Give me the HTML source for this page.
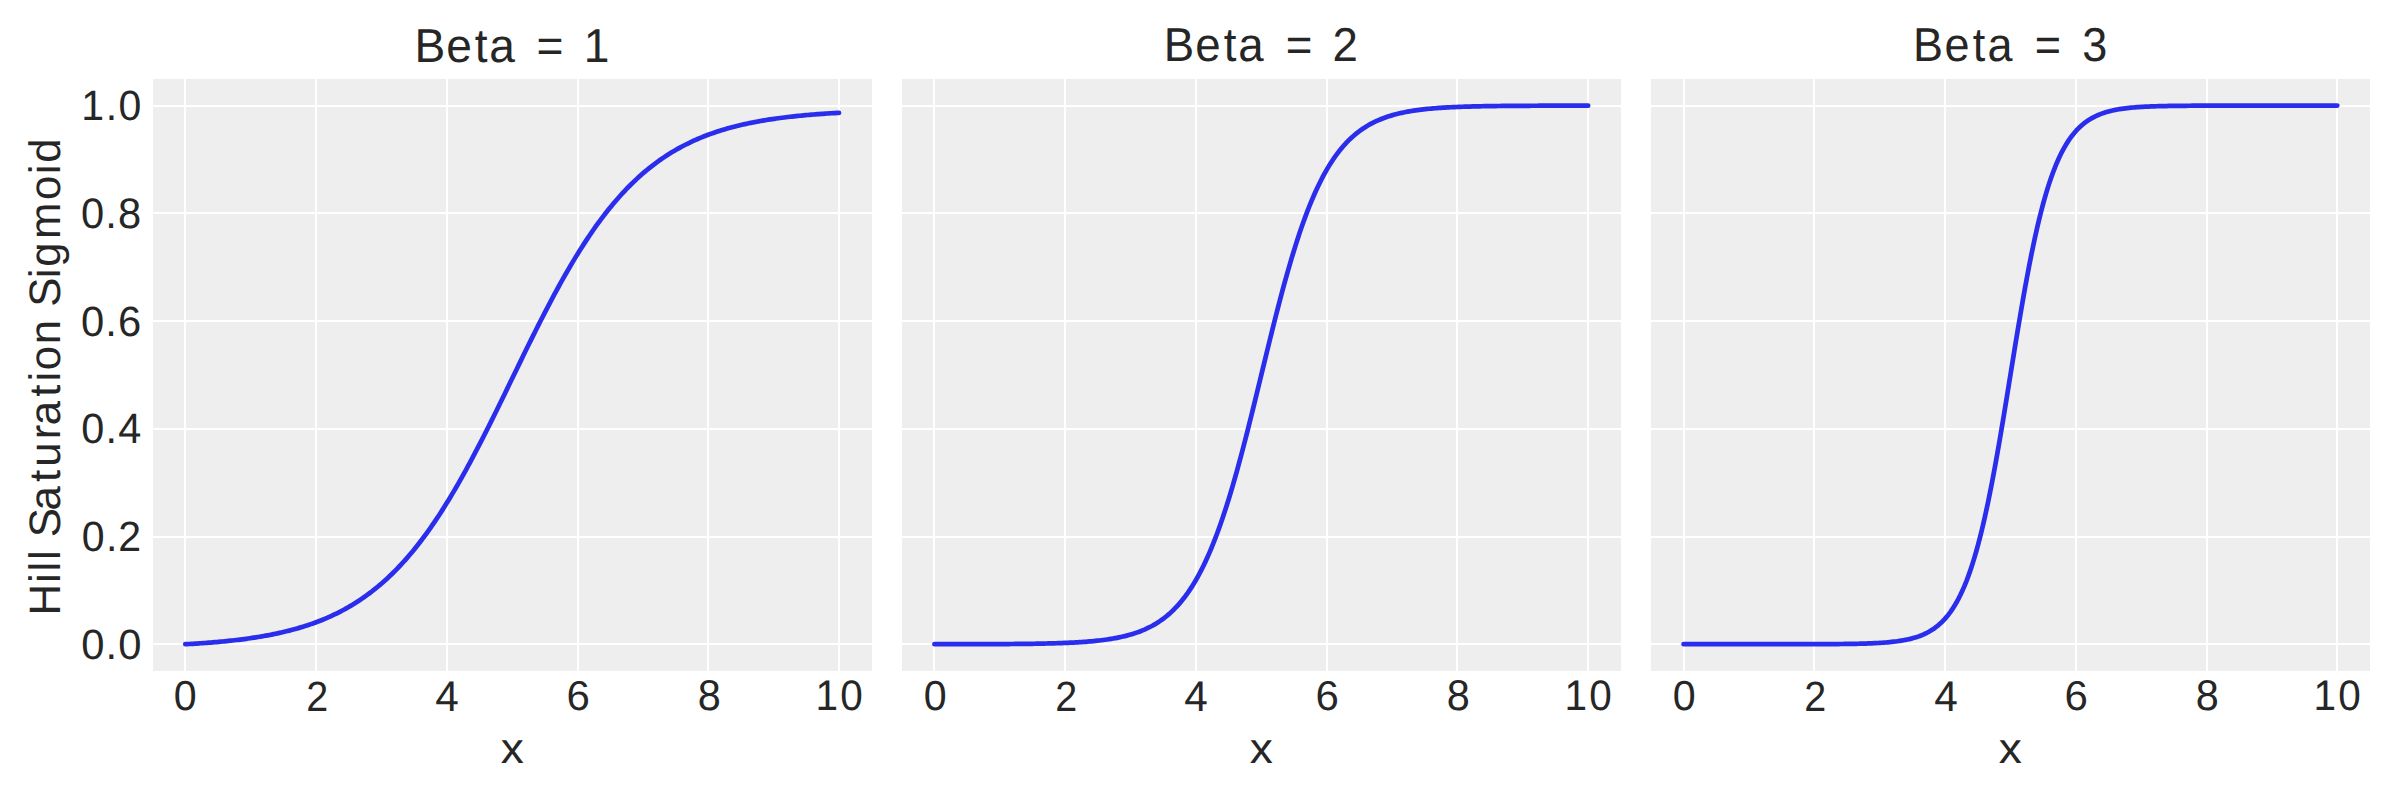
<!DOCTYPE html>
<html lang="en"><head><meta charset="utf-8"><title>Hill Saturation Sigmoid</title>
<style>
html,body{margin:0;padding:0;background:#fff;width:2400px;height:800px;overflow:hidden}
svg{display:block}
text{font-family:"Liberation Sans",sans-serif;fill:#262626;text-rendering:geometricPrecision}
</style></head><body>
<svg width="2400" height="800" viewBox="0 0 2400 800">
<rect width="2400" height="800" fill="#fff"/>
<rect x="153" y="79" width="719" height="592" fill="#eeeeee"/>
<rect x="184" y="79" width="2" height="592" fill="#fff"/>
<rect x="315" y="79" width="2" height="592" fill="#fff"/>
<rect x="446" y="79" width="2" height="592" fill="#fff"/>
<rect x="577" y="79" width="2" height="592" fill="#fff"/>
<rect x="707" y="79" width="2" height="592" fill="#fff"/>
<rect x="838" y="79" width="2" height="592" fill="#fff"/>
<rect x="153" y="643" width="719" height="2" fill="#fff"/>
<rect x="153" y="536" width="719" height="2" fill="#fff"/>
<rect x="153" y="428" width="719" height="2" fill="#fff"/>
<rect x="153" y="320" width="719" height="2" fill="#fff"/>
<rect x="153" y="212" width="719" height="2" fill="#fff"/>
<rect x="153" y="105" width="719" height="2" fill="#fff"/>
<path d="M185.27 644.23 L187.23 644.13 L189.2 644.01 L191.16 643.9 L193.12 643.78 L195.09 643.66 L197.05 643.53 L199.01 643.4 L200.98 643.26 L202.94 643.13 L204.9 642.98 L206.87 642.84 L208.83 642.69 L210.79 642.53 L212.76 642.37 L214.72 642.2 L216.68 642.04 L218.65 641.86 L220.61 641.68 L222.57 641.49 L224.54 641.3 L226.5 641.11 L228.46 640.9 L230.43 640.7 L232.39 640.48 L234.35 640.26 L236.32 640.03 L238.28 639.8 L240.24 639.56 L242.21 639.31 L244.17 639.05 L246.13 638.79 L248.1 638.52 L250.06 638.24 L252.02 637.95 L253.99 637.65 L255.95 637.35 L257.91 637.04 L259.88 636.71 L261.84 636.38 L263.8 636.04 L265.76 635.69 L267.73 635.33 L269.69 634.95 L271.65 634.57 L273.62 634.18 L275.58 633.77 L277.54 633.35 L279.51 632.92 L281.47 632.48 L283.43 632.03 L285.4 631.56 L287.36 631.08 L289.32 630.59 L291.29 630.08 L293.25 629.55 L295.21 629.02 L297.18 628.46 L299.14 627.89 L301.1 627.31 L303.07 626.71 L305.03 626.09 L306.99 625.45 L308.96 624.8 L310.92 624.13 L312.88 623.44 L314.85 622.73 L316.81 622 L318.77 621.25 L320.74 620.48 L322.7 619.69 L324.66 618.88 L326.63 618.05 L328.59 617.19 L330.55 616.31 L332.52 615.41 L334.48 614.48 L336.44 613.53 L338.41 612.55 L340.37 611.55 L342.33 610.52 L344.29 609.46 L346.26 608.37 L348.22 607.26 L350.18 606.12 L352.15 604.95 L354.11 603.75 L356.07 602.52 L358.04 601.26 L360 599.96 L361.96 598.64 L363.93 597.28 L365.89 595.89 L367.85 594.46 L369.82 593 L371.78 591.5 L373.74 589.97 L375.71 588.4 L377.67 586.79 L379.63 585.15 L381.6 583.46 L383.56 581.74 L385.52 579.98 L387.49 578.18 L389.45 576.34 L391.41 574.45 L393.38 572.53 L395.34 570.56 L397.3 568.55 L399.27 566.5 L401.23 564.41 L403.19 562.27 L405.16 560.08 L407.12 557.86 L409.08 555.58 L411.05 553.26 L413.01 550.9 L414.97 548.49 L416.94 546.03 L418.9 543.53 L420.86 540.98 L422.82 538.38 L424.79 535.74 L426.75 533.05 L428.71 530.32 L430.68 527.54 L432.64 524.71 L434.6 521.83 L436.57 518.91 L438.53 515.94 L440.49 512.93 L442.46 509.87 L444.42 506.76 L446.38 503.61 L448.35 500.42 L450.31 497.18 L452.27 493.9 L454.24 490.58 L456.2 487.22 L458.16 483.81 L460.13 480.36 L462.09 476.88 L464.05 473.36 L466.02 469.79 L467.98 466.2 L469.94 462.56 L471.91 458.9 L473.87 455.2 L475.83 451.47 L477.8 447.7 L479.76 443.91 L481.72 440.09 L483.69 436.25 L485.65 432.38 L487.61 428.48 L489.58 424.57 L491.54 420.63 L493.5 416.68 L495.47 412.71 L497.43 408.72 L499.39 404.72 L501.35 400.71 L503.32 396.69 L505.28 392.66 L507.24 388.63 L509.21 384.59 L511.17 380.54 L513.13 376.5 L515.1 372.46 L517.06 368.42 L519.02 364.38 L520.99 360.35 L522.95 356.33 L524.91 352.32 L526.88 348.32 L528.84 344.33 L530.8 340.36 L532.77 336.41 L534.73 332.47 L536.69 328.56 L538.66 324.67 L540.62 320.8 L542.58 316.95 L544.55 313.13 L546.51 309.34 L548.47 305.58 L550.44 301.85 L552.4 298.15 L554.36 294.48 L556.33 290.85 L558.29 287.25 L560.25 283.69 L562.22 280.16 L564.18 276.68 L566.14 273.23 L568.11 269.83 L570.07 266.46 L572.03 263.14 L574 259.86 L575.96 256.62 L577.92 253.43 L579.88 250.28 L581.85 247.18 L583.81 244.12 L585.77 241.1 L587.74 238.13 L589.7 235.21 L591.66 232.34 L593.63 229.51 L595.59 226.73 L597.55 223.99 L599.52 221.3 L601.48 218.66 L603.44 216.06 L605.41 213.51 L607.37 211.01 L609.33 208.55 L611.3 206.14 L613.26 203.78 L615.22 201.46 L617.19 199.19 L619.15 196.96 L621.11 194.78 L623.08 192.64 L625.04 190.54 L627 188.49 L628.97 186.48 L630.93 184.51 L632.89 182.59 L634.86 180.71 L636.82 178.86 L638.78 177.06 L640.75 175.3 L642.71 173.58 L644.67 171.9 L646.64 170.25 L648.6 168.65 L650.56 167.08 L652.53 165.54 L654.49 164.05 L656.45 162.58 L658.41 161.16 L660.38 159.77 L662.34 158.41 L664.3 157.08 L666.27 155.79 L668.23 154.52 L670.19 153.29 L672.16 152.09 L674.12 150.92 L676.08 149.78 L678.05 148.67 L680.01 147.58 L681.97 146.53 L683.94 145.5 L685.9 144.49 L687.86 143.52 L689.83 142.56 L691.79 141.64 L693.75 140.73 L695.72 139.85 L697.68 139 L699.64 138.16 L701.61 137.35 L703.57 136.56 L705.53 135.79 L707.5 135.04 L709.46 134.31 L711.42 133.6 L713.39 132.91 L715.35 132.24 L717.31 131.59 L719.28 130.95 L721.24 130.34 L723.2 129.73 L725.17 129.15 L727.13 128.58 L729.09 128.03 L731.06 127.49 L733.02 126.97 L734.98 126.46 L736.95 125.96 L738.91 125.48 L740.87 125.01 L742.83 124.56 L744.8 124.12 L746.76 123.69 L748.72 123.27 L750.69 122.87 L752.65 122.47 L754.61 122.09 L756.58 121.72 L758.54 121.35 L760.5 121 L762.47 120.66 L764.43 120.33 L766.39 120.01 L768.36 119.69 L770.32 119.39 L772.28 119.09 L774.25 118.81 L776.21 118.53 L778.17 118.26 L780.14 117.99 L782.1 117.74 L784.06 117.49 L786.03 117.25 L787.99 117.01 L789.95 116.78 L791.92 116.56 L793.88 116.35 L795.84 116.14 L797.81 115.94 L799.77 115.74 L801.73 115.55 L803.7 115.36 L805.66 115.18 L807.62 115.01 L809.59 114.84 L811.55 114.67 L813.51 114.51 L815.48 114.36 L817.44 114.21 L819.4 114.06 L821.36 113.92 L823.33 113.78 L825.29 113.64 L827.25 113.51 L829.22 113.39 L831.18 113.26 L833.14 113.15 L835.11 113.03 L837.07 112.92 L839.03 112.81 L839.03 112.81" fill="none" stroke="#2a2eec" stroke-width="4.72" stroke-linecap="round" stroke-linejoin="round"/>
<rect x="902" y="79" width="719" height="592" fill="#eeeeee"/>
<rect x="933" y="79" width="2" height="592" fill="#fff"/>
<rect x="1064" y="79" width="2" height="592" fill="#fff"/>
<rect x="1195" y="79" width="2" height="592" fill="#fff"/>
<rect x="1326" y="79" width="2" height="592" fill="#fff"/>
<rect x="1456" y="79" width="2" height="592" fill="#fff"/>
<rect x="1587" y="79" width="2" height="592" fill="#fff"/>
<rect x="902" y="643" width="719" height="2" fill="#fff"/>
<rect x="902" y="536" width="719" height="2" fill="#fff"/>
<rect x="902" y="428" width="719" height="2" fill="#fff"/>
<rect x="902" y="320" width="719" height="2" fill="#fff"/>
<rect x="902" y="212" width="719" height="2" fill="#fff"/>
<rect x="902" y="105" width="719" height="2" fill="#fff"/>
<path d="M934.41 644.23 L936.37 644.23 L938.34 644.23 L940.3 644.23 L942.26 644.23 L944.23 644.23 L946.19 644.22 L948.15 644.22 L950.12 644.22 L952.08 644.22 L954.04 644.21 L956.01 644.21 L957.97 644.21 L959.93 644.21 L961.9 644.2 L963.86 644.2 L965.82 644.2 L967.79 644.19 L969.75 644.19 L971.71 644.18 L973.68 644.18 L975.64 644.17 L977.6 644.17 L979.57 644.16 L981.53 644.16 L983.49 644.15 L985.45 644.14 L987.42 644.14 L989.38 644.13 L991.34 644.12 L993.31 644.11 L995.27 644.1 L997.23 644.09 L999.2 644.08 L1001.16 644.07 L1003.12 644.06 L1005.09 644.05 L1007.05 644.03 L1009.01 644.02 L1010.98 644 L1012.94 643.99 L1014.9 643.97 L1016.87 643.95 L1018.83 643.94 L1020.79 643.92 L1022.76 643.89 L1024.72 643.87 L1026.68 643.85 L1028.65 643.82 L1030.61 643.8 L1032.57 643.77 L1034.54 643.74 L1036.5 643.7 L1038.46 643.67 L1040.43 643.63 L1042.39 643.59 L1044.35 643.55 L1046.32 643.51 L1048.28 643.46 L1050.24 643.41 L1052.21 643.36 L1054.17 643.31 L1056.13 643.25 L1058.1 643.19 L1060.06 643.12 L1062.02 643.05 L1063.98 642.97 L1065.95 642.9 L1067.91 642.81 L1069.87 642.72 L1071.84 642.63 L1073.8 642.53 L1075.76 642.42 L1077.73 642.31 L1079.69 642.18 L1081.65 642.06 L1083.62 641.92 L1085.58 641.78 L1087.54 641.62 L1089.51 641.46 L1091.47 641.29 L1093.43 641.11 L1095.4 640.91 L1097.36 640.71 L1099.32 640.49 L1101.29 640.26 L1103.25 640.01 L1105.21 639.75 L1107.18 639.47 L1109.14 639.18 L1111.1 638.87 L1113.07 638.54 L1115.03 638.19 L1116.99 637.82 L1118.96 637.43 L1120.92 637.01 L1122.88 636.57 L1124.85 636.1 L1126.81 635.6 L1128.77 635.07 L1130.74 634.51 L1132.7 633.92 L1134.66 633.3 L1136.63 632.63 L1138.59 631.93 L1140.55 631.18 L1142.51 630.39 L1144.48 629.56 L1146.44 628.68 L1148.4 627.74 L1150.37 626.75 L1152.33 625.71 L1154.29 624.6 L1156.26 623.43 L1158.22 622.19 L1160.18 620.89 L1162.15 619.51 L1164.11 618.05 L1166.07 616.51 L1168.04 614.89 L1170 613.17 L1171.96 611.37 L1173.93 609.46 L1175.89 607.45 L1177.85 605.34 L1179.82 603.11 L1181.78 600.77 L1183.74 598.31 L1185.71 595.72 L1187.67 593.01 L1189.63 590.15 L1191.6 587.16 L1193.56 584.02 L1195.52 580.73 L1197.49 577.28 L1199.45 573.68 L1201.41 569.92 L1203.38 565.98 L1205.34 561.88 L1207.3 557.6 L1209.27 553.14 L1211.23 548.51 L1213.19 543.69 L1215.16 538.68 L1217.12 533.49 L1219.08 528.11 L1221.05 522.55 L1223.01 516.79 L1224.97 510.86 L1226.93 504.74 L1228.9 498.44 L1230.86 491.97 L1232.82 485.32 L1234.79 478.51 L1236.75 471.54 L1238.71 464.42 L1240.68 457.15 L1242.64 449.75 L1244.6 442.23 L1246.57 434.59 L1248.53 426.85 L1250.49 419.02 L1252.46 411.12 L1254.42 403.14 L1256.38 395.12 L1258.35 387.06 L1260.31 378.98 L1262.27 370.9 L1264.24 362.82 L1266.2 354.76 L1268.16 346.74 L1270.13 338.77 L1272.09 330.86 L1274.05 323.03 L1276.02 315.29 L1277.98 307.65 L1279.94 300.13 L1281.91 292.73 L1283.87 285.46 L1285.83 278.34 L1287.8 271.37 L1289.76 264.56 L1291.72 257.91 L1293.69 251.44 L1295.65 245.14 L1297.61 239.02 L1299.58 233.09 L1301.54 227.34 L1303.5 221.77 L1305.46 216.39 L1307.43 211.2 L1309.39 206.2 L1311.35 201.38 L1313.32 196.74 L1315.28 192.28 L1317.24 188 L1319.21 183.9 L1321.17 179.97 L1323.13 176.2 L1325.1 172.6 L1327.06 169.15 L1329.02 165.86 L1330.99 162.72 L1332.95 159.73 L1334.91 156.88 L1336.88 154.16 L1338.84 151.57 L1340.8 149.11 L1342.77 146.77 L1344.73 144.54 L1346.69 142.43 L1348.66 140.42 L1350.62 138.52 L1352.58 136.71 L1354.55 135 L1356.51 133.37 L1358.47 131.83 L1360.44 130.38 L1362.4 129 L1364.36 127.69 L1366.33 126.45 L1368.29 125.28 L1370.25 124.18 L1372.22 123.13 L1374.18 122.14 L1376.14 121.21 L1378.11 120.32 L1380.07 119.49 L1382.03 118.7 L1383.99 117.95 L1385.96 117.25 L1387.92 116.59 L1389.88 115.96 L1391.85 115.37 L1393.81 114.81 L1395.77 114.28 L1397.74 113.79 L1399.7 113.32 L1401.66 112.87 L1403.63 112.46 L1405.59 112.06 L1407.55 111.69 L1409.52 111.34 L1411.48 111.01 L1413.44 110.7 L1415.41 110.41 L1417.37 110.13 L1419.33 109.87 L1421.3 109.62 L1423.26 109.39 L1425.22 109.17 L1427.19 108.97 L1429.15 108.77 L1431.11 108.59 L1433.08 108.42 L1435.04 108.26 L1437 108.1 L1438.97 107.96 L1440.93 107.82 L1442.89 107.7 L1444.86 107.58 L1446.82 107.46 L1448.78 107.36 L1450.75 107.26 L1452.71 107.16 L1454.67 107.07 L1456.64 106.99 L1458.6 106.91 L1460.56 106.83 L1462.52 106.76 L1464.49 106.7 L1466.45 106.63 L1468.41 106.57 L1470.38 106.52 L1472.34 106.47 L1474.3 106.42 L1476.27 106.37 L1478.23 106.33 L1480.19 106.29 L1482.16 106.25 L1484.12 106.21 L1486.08 106.18 L1488.05 106.15 L1490.01 106.11 L1491.97 106.09 L1493.94 106.06 L1495.9 106.03 L1497.86 106.01 L1499.83 105.99 L1501.79 105.97 L1503.75 105.95 L1505.72 105.93 L1507.68 105.91 L1509.64 105.89 L1511.61 105.88 L1513.57 105.86 L1515.53 105.85 L1517.5 105.84 L1519.46 105.82 L1521.42 105.81 L1523.39 105.8 L1525.35 105.79 L1527.31 105.78 L1529.28 105.77 L1531.24 105.76 L1533.2 105.75 L1535.17 105.75 L1537.13 105.74 L1539.09 105.73 L1541.05 105.73 L1543.02 105.72 L1544.98 105.71 L1546.94 105.71 L1548.91 105.7 L1550.87 105.7 L1552.83 105.69 L1554.8 105.69 L1556.76 105.69 L1558.72 105.68 L1560.69 105.68 L1562.65 105.68 L1564.61 105.67 L1566.58 105.67 L1568.54 105.67 L1570.5 105.66 L1572.47 105.66 L1574.43 105.66 L1576.39 105.66 L1578.36 105.66 L1580.32 105.65 L1582.28 105.65 L1584.25 105.65 L1586.21 105.65 L1588.17 105.65 L1588.17 105.65" fill="none" stroke="#2a2eec" stroke-width="4.72" stroke-linecap="round" stroke-linejoin="round"/>
<rect x="1651" y="79" width="719" height="592" fill="#eeeeee"/>
<rect x="1683" y="79" width="2" height="592" fill="#fff"/>
<rect x="1813" y="79" width="2" height="592" fill="#fff"/>
<rect x="1944" y="79" width="2" height="592" fill="#fff"/>
<rect x="2075" y="79" width="2" height="592" fill="#fff"/>
<rect x="2206" y="79" width="2" height="592" fill="#fff"/>
<rect x="2336" y="79" width="2" height="592" fill="#fff"/>
<rect x="1651" y="643" width="719" height="2" fill="#fff"/>
<rect x="1651" y="536" width="719" height="2" fill="#fff"/>
<rect x="1651" y="428" width="719" height="2" fill="#fff"/>
<rect x="1651" y="320" width="719" height="2" fill="#fff"/>
<rect x="1651" y="212" width="719" height="2" fill="#fff"/>
<rect x="1651" y="105" width="719" height="2" fill="#fff"/>
<path d="M1683.55 644.23 L1685.51 644.23 L1687.48 644.23 L1689.44 644.23 L1691.4 644.23 L1693.37 644.23 L1695.33 644.23 L1697.29 644.23 L1699.26 644.23 L1701.22 644.23 L1703.18 644.23 L1705.15 644.23 L1707.11 644.23 L1709.07 644.23 L1711.03 644.23 L1713 644.23 L1714.96 644.23 L1716.92 644.23 L1718.89 644.23 L1720.85 644.23 L1722.81 644.23 L1724.78 644.23 L1726.74 644.23 L1728.7 644.23 L1730.67 644.23 L1732.63 644.23 L1734.59 644.23 L1736.56 644.23 L1738.52 644.23 L1740.48 644.23 L1742.45 644.23 L1744.41 644.23 L1746.37 644.23 L1748.34 644.23 L1750.3 644.23 L1752.26 644.23 L1754.23 644.23 L1756.19 644.23 L1758.15 644.23 L1760.12 644.23 L1762.08 644.23 L1764.04 644.23 L1766.01 644.23 L1767.97 644.23 L1769.93 644.23 L1771.9 644.23 L1773.86 644.22 L1775.82 644.22 L1777.79 644.22 L1779.75 644.22 L1781.71 644.22 L1783.68 644.22 L1785.64 644.22 L1787.6 644.22 L1789.56 644.21 L1791.53 644.21 L1793.49 644.21 L1795.45 644.21 L1797.42 644.2 L1799.38 644.2 L1801.34 644.2 L1803.31 644.19 L1805.27 644.19 L1807.23 644.19 L1809.2 644.18 L1811.16 644.18 L1813.12 644.17 L1815.09 644.17 L1817.05 644.16 L1819.01 644.15 L1820.98 644.14 L1822.94 644.14 L1824.9 644.13 L1826.87 644.12 L1828.83 644.11 L1830.79 644.09 L1832.76 644.08 L1834.72 644.07 L1836.68 644.05 L1838.65 644.03 L1840.61 644.01 L1842.57 643.99 L1844.54 643.97 L1846.5 643.94 L1848.46 643.92 L1850.43 643.89 L1852.39 643.85 L1854.35 643.82 L1856.32 643.78 L1858.28 643.74 L1860.24 643.69 L1862.21 643.64 L1864.17 643.58 L1866.13 643.52 L1868.09 643.45 L1870.06 643.38 L1872.02 643.3 L1873.98 643.21 L1875.95 643.11 L1877.91 643.01 L1879.87 642.89 L1881.84 642.76 L1883.8 642.63 L1885.76 642.48 L1887.73 642.31 L1889.69 642.13 L1891.65 641.93 L1893.62 641.72 L1895.58 641.48 L1897.54 641.22 L1899.51 640.94 L1901.47 640.63 L1903.43 640.29 L1905.4 639.92 L1907.36 639.52 L1909.32 639.08 L1911.29 638.6 L1913.25 638.07 L1915.21 637.5 L1917.18 636.88 L1919.14 636.19 L1921.1 635.45 L1923.07 634.63 L1925.03 633.74 L1926.99 632.78 L1928.96 631.72 L1930.92 630.57 L1932.88 629.32 L1934.85 627.96 L1936.81 626.47 L1938.77 624.86 L1940.74 623.1 L1942.7 621.2 L1944.66 619.12 L1946.62 616.88 L1948.59 614.44 L1950.55 611.8 L1952.51 608.94 L1954.48 605.85 L1956.44 602.52 L1958.4 598.91 L1960.37 595.03 L1962.33 590.85 L1964.29 586.36 L1966.26 581.54 L1968.22 576.38 L1970.18 570.85 L1972.15 564.95 L1974.11 558.66 L1976.07 551.98 L1978.04 544.88 L1980 537.38 L1981.96 529.45 L1983.93 521.1 L1985.89 512.34 L1987.85 503.16 L1989.82 493.58 L1991.78 483.61 L1993.74 473.27 L1995.71 462.59 L1997.67 451.59 L1999.63 440.31 L2001.6 428.77 L2003.56 417.03 L2005.52 405.12 L2007.49 393.09 L2009.45 380.98 L2011.41 368.85 L2013.38 356.75 L2015.34 344.72 L2017.3 332.8 L2019.27 321.06 L2021.23 309.53 L2023.19 298.24 L2025.15 287.24 L2027.12 276.56 L2029.08 266.22 L2031.04 256.26 L2033.01 246.68 L2034.97 237.5 L2036.93 228.73 L2038.9 220.38 L2040.86 212.46 L2042.82 204.95 L2044.79 197.86 L2046.75 191.17 L2048.71 184.88 L2050.68 178.98 L2052.64 173.46 L2054.6 168.29 L2056.57 163.47 L2058.53 158.98 L2060.49 154.8 L2062.46 150.92 L2064.42 147.32 L2066.38 143.98 L2068.35 140.89 L2070.31 138.03 L2072.27 135.39 L2074.24 132.96 L2076.2 130.71 L2078.16 128.64 L2080.13 126.73 L2082.09 124.98 L2084.05 123.36 L2086.02 121.88 L2087.98 120.51 L2089.94 119.26 L2091.91 118.11 L2093.87 117.06 L2095.83 116.09 L2097.8 115.2 L2099.76 114.39 L2101.72 113.64 L2103.68 112.96 L2105.65 112.33 L2107.61 111.76 L2109.57 111.23 L2111.54 110.75 L2113.5 110.31 L2115.46 109.91 L2117.43 109.54 L2119.39 109.2 L2121.35 108.89 L2123.32 108.61 L2125.28 108.35 L2127.24 108.12 L2129.21 107.9 L2131.17 107.7 L2133.13 107.52 L2135.1 107.36 L2137.06 107.21 L2139.02 107.07 L2140.99 106.94 L2142.95 106.83 L2144.91 106.72 L2146.88 106.62 L2148.84 106.54 L2150.8 106.46 L2152.77 106.38 L2154.73 106.31 L2156.69 106.25 L2158.66 106.2 L2160.62 106.15 L2162.58 106.1 L2164.55 106.05 L2166.51 106.02 L2168.47 105.98 L2170.44 105.95 L2172.4 105.92 L2174.36 105.89 L2176.33 105.86 L2178.29 105.84 L2180.25 105.82 L2182.22 105.8 L2184.18 105.78 L2186.14 105.77 L2188.1 105.75 L2190.07 105.74 L2192.03 105.73 L2193.99 105.72 L2195.96 105.71 L2197.92 105.7 L2199.88 105.69 L2201.85 105.68 L2203.81 105.67 L2205.77 105.67 L2207.74 105.66 L2209.7 105.66 L2211.66 105.65 L2213.63 105.65 L2215.59 105.64 L2217.55 105.64 L2219.52 105.63 L2221.48 105.63 L2223.44 105.63 L2225.41 105.63 L2227.37 105.62 L2229.33 105.62 L2231.3 105.62 L2233.26 105.62 L2235.22 105.62 L2237.19 105.61 L2239.15 105.61 L2241.11 105.61 L2243.08 105.61 L2245.04 105.61 L2247 105.61 L2248.97 105.61 L2250.93 105.61 L2252.89 105.61 L2254.86 105.61 L2256.82 105.6 L2258.78 105.6 L2260.75 105.6 L2262.71 105.6 L2264.67 105.6 L2266.63 105.6 L2268.6 105.6 L2270.56 105.6 L2272.52 105.6 L2274.49 105.6 L2276.45 105.6 L2278.41 105.6 L2280.38 105.6 L2282.34 105.6 L2284.3 105.6 L2286.27 105.6 L2288.23 105.6 L2290.19 105.6 L2292.16 105.6 L2294.12 105.6 L2296.08 105.6 L2298.05 105.6 L2300.01 105.6 L2301.97 105.6 L2303.94 105.6 L2305.9 105.6 L2307.86 105.6 L2309.83 105.6 L2311.79 105.6 L2313.75 105.6 L2315.72 105.6 L2317.68 105.6 L2319.64 105.6 L2321.61 105.6 L2323.57 105.6 L2325.53 105.6 L2327.5 105.6 L2329.46 105.6 L2331.42 105.6 L2333.39 105.6 L2335.35 105.6 L2337.31 105.6 L2337.31 105.6" fill="none" stroke="#2a2eec" stroke-width="4.72" stroke-linecap="round" stroke-linejoin="round"/>
<g>
<text transform="translate(414.74 62) scale(0.9687 1)" x="-0.2 32.45 61.97 76.81 105.81 125.74 158.84 174.54" y="0" font-size="47.58">Beta = 1</text>
<text transform="translate(172.94 710) scale(0.9860 1)" x="0.92" y="0" font-size="41.76">0</text>
<text transform="translate(305.45 711) scale(0.9319 1)" x="0.92" y="0" font-size="42.4">2</text>
<text transform="translate(434.6 711) scale(0.9870 1)" x="0.6" y="0" font-size="42.9">4</text>
<text transform="translate(565.78 710) scale(1.0079 1)" x="0.66" y="0" font-size="41.71">6</text>
<text transform="translate(696.86 710) scale(0.9653 1)" x="0.86" y="0" font-size="42.94">8</text>
<text transform="translate(814.53 710) scale(0.9463 1)" x="0.95 27.31" y="0" font-size="42.8">10</text>
<text transform="translate(80.44 659) scale(0.9844 1)" x="0.77 25.51 38.46" y="0" font-size="42.4">0.0</text>
<text transform="translate(80.74 551) scale(0.9682 1)" x="0.98 26.03 38.77" y="0" font-size="42.4">0.2</text>
<text transform="translate(80.34 443.36) scale(0.9764 1)" x="0.87 25.76 38.87" y="0" font-size="42.42">0.4</text>
<text transform="translate(80.14 335.64) scale(0.9843 1)" x="0.77 25.51 38.46" y="0" font-size="42.4">0.6</text>
<text transform="translate(80.14 228.36) scale(0.9739 1)" x="0.79 25.79 38.89" y="0" font-size="42.8">0.8</text>
<text transform="translate(80.53 120.36) scale(0.9676 1)" x="0.77 26.05 39.33" y="0" font-size="42.4">1.0</text>
<text transform="translate(500.1 763) scale(1.0723 1)" x="0.65" y="0" font-size="43.04">x</text>
<text transform="translate(1163.76 61) scale(0.9597 1)" x="-0.04 32.88 62.61 77.66 106.79 127.04 160.32 175.92" y="0" font-size="47.56">Beta = 2</text>
<text transform="translate(922.94 710) scale(0.9860 1)" x="0.92" y="0" font-size="41.76">0</text>
<text transform="translate(1054.45 711) scale(0.9319 1)" x="0.92" y="0" font-size="42.4">2</text>
<text transform="translate(1183.6 711) scale(0.9870 1)" x="0.6" y="0" font-size="42.9">4</text>
<text transform="translate(1314.78 710) scale(1.0079 1)" x="0.66" y="0" font-size="41.71">6</text>
<text transform="translate(1445.86 710) scale(0.9653 1)" x="0.86" y="0" font-size="42.94">8</text>
<text transform="translate(1563.53 710) scale(0.9463 1)" x="0.95 27.31" y="0" font-size="42.8">10</text>
<text transform="translate(1249.1 763) scale(1.0723 1)" x="0.65" y="0" font-size="43.04">x</text>
<text transform="translate(1912.7 61) scale(0.9464 1)" x="0.19 33.53 63.59 78.96 108.3 129.03 162.58 179.27" y="0" font-size="47.56">Beta = 3</text>
<text transform="translate(1671.94 710) scale(0.9860 1)" x="0.92" y="0" font-size="41.76">0</text>
<text transform="translate(1803.45 711) scale(0.9319 1)" x="0.92" y="0" font-size="42.4">2</text>
<text transform="translate(1933.6 711) scale(0.9870 1)" x="0.6" y="0" font-size="42.9">4</text>
<text transform="translate(2063.78 710) scale(1.0079 1)" x="0.66" y="0" font-size="41.71">6</text>
<text transform="translate(2194.86 710) scale(0.9653 1)" x="0.86" y="0" font-size="42.94">8</text>
<text transform="translate(2312.53 710) scale(0.9463 1)" x="0.95 27.31" y="0" font-size="42.8">10</text>
<text transform="translate(1998.1 763) scale(1.0723 1)" x="0.65" y="0" font-size="43.04">x</text>
<text transform="translate(60.48 615.39) rotate(-90) scale(0.9927 1)" x="-0.11 32.53 44.17 55.83 66.55 78.77 105.58 134.26 149.69 177.42 191.61 220.29 235.71 247.02 273.24 298.69 310.91 339.64 351.17 379.21 418.48 444.51 456.04" y="0" font-size="43.99">Hill Saturation Sigmoid</text>
</g>
</svg>
</body></html>
